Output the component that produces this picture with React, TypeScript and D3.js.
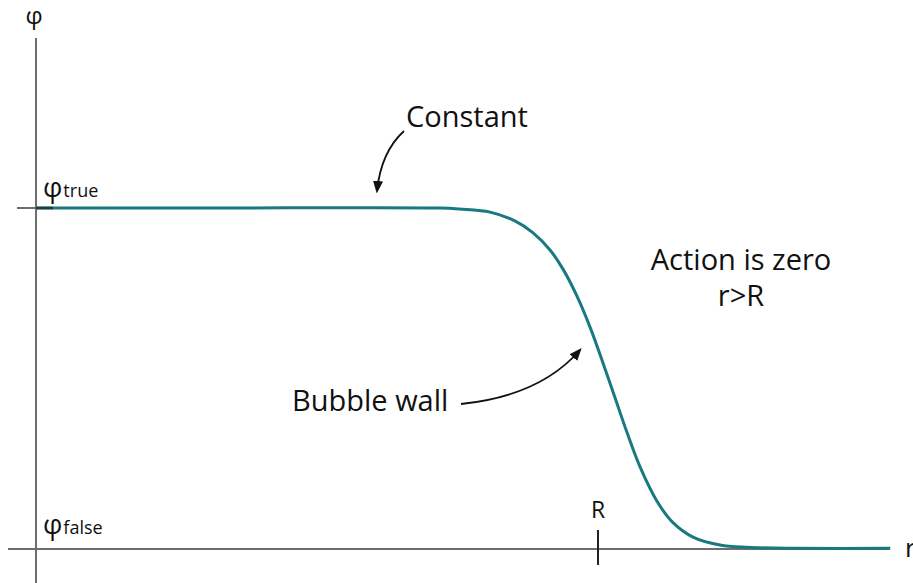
import React from "react";
import * as d3 from "d3";

// r in units of R, phi normalised: 0 = phi_false, 1 = phi_true
const rValues = [0, 0.3, 0.719, 0.754, 0.808, 0.852, 0.884, 0.915, 0.938, 0.963, 0.986, 1.009, 1.03, 1.052, 1.075, 1.105, 1.133, 1.169, 1.217, 1.265, 1.35, 1.52];
const phiValues = [1, 1, 1, 0.997, 0.988, 0.962, 0.928, 0.876, 0.82, 0.74, 0.65, 0.545, 0.445, 0.34, 0.24, 0.14, 0.078, 0.035, 0.012, 0.005, 0.002, 0.002];
const yTickLabels = [
  { value: 1, base: "φ", sub: "true" },
  { value: 0, base: "φ", sub: "false" },
];
const xTickLabels = [{ value: 1, label: "R" }];
const annotations = ["Constant", "Bubble wall", "Action is zero", "r>R"];

const W = 913;
const H = 583;
const FONT = "'Open Sans', 'Noto Sans', sans-serif";
const TEAL = "#187a80";
const AXIS = "#6e6e6e";

export default function App() {
  const x = d3.scaleLinear().domain([0, 1]).range([36, 598]);
  const y = d3.scaleLinear().domain([0, 1]).range([549, 208]);
  const pts = rValues.map((r, i) => [r, phiValues[i]] as [number, number]);
  const line = d3
    .line<[number, number]>()
    .x((d) => x(d[0]))
    .y((d) => y(d[1]))
    .curve(d3.curveCatmullRom.alpha(0.5));

  return (
    <svg
      width={W}
      height={H}
      viewBox={`0 0 ${W} ${H}`}
      style={{ position: "absolute", left: 0, top: 0, background: "#fff" }}
      fontFamily={FONT}
    >
      <defs>
        <marker id="ah" viewBox="0 0 10 10" refX="8" refY="5" markerWidth="7" markerHeight="7" orient="auto-start-reverse">
          <path d="M0,1 L10,5 L0,9 z" fill="#111" />
        </marker>
      </defs>
      {/* axes */}
      <line x1={x(0)} x2={x(0)} y1={38} y2={H} stroke={AXIS} strokeWidth={2} />
      <line x1={8} x2={890} y1={y(0)} y2={y(0)} stroke={AXIS} strokeWidth={2} />
      <text x={34} y={24} fontSize={24} textAnchor="middle" fill="#111">φ</text>
      <text x={905} y={557} fontSize={26} fill="#111">r</text>

      {/* curve */}
      <path d={line(pts) ?? ""} fill="none" stroke={TEAL} strokeWidth={3} />

      {/* y ticks */}
      <line x1={17} x2={x(0)} y1={y(1)} y2={y(1)} stroke={AXIS} strokeWidth={2} />
      <line x1={x(0)} x2={53} y1={y(1)} y2={y(1)} stroke="#1d3a3c" strokeWidth={2.5} />
      {yTickLabels.map((t) => (
        <text key={t.sub} x={43} y={y(t.value) - (t.value === 1 ? 11 : 15)} fill="#111">
          <tspan fontSize={27}>{t.base}</tspan>
          <tspan fontSize={18} dx={1}>{t.sub}</tspan>
        </text>
      ))}

      {/* x tick */}
      {xTickLabels.map((t) => (
        <g key={t.label}>
          <line x1={x(t.value)} x2={x(t.value)} y1={530} y2={565} stroke="#222" strokeWidth={2} />
          <text x={x(t.value)} y={518} fontSize={23} textAnchor="middle" fill="#111">{t.label}</text>
        </g>
      ))}

      {/* annotations */}
      <text x={406} y={127} fontSize={29} fill="#111">{annotations[0]}</text>
      <path d="M404,131 Q381,152 377,191" fill="none" stroke="#111" strokeWidth={1.8} markerEnd="url(#ah)" />

      <text x={292} y={411} fontSize={29} fill="#111">{annotations[1]}</text>
      <path d="M461,404 Q540,396 580,350" fill="none" stroke="#111" strokeWidth={1.8} markerEnd="url(#ah)" />

      <text x={741} y={270} fontSize={29} textAnchor="middle" fill="#111">{annotations[2]}</text>
      <text x={741} y={306} fontSize={29} textAnchor="middle" fill="#111">{annotations[3]}</text>
    </svg>
  );
}
